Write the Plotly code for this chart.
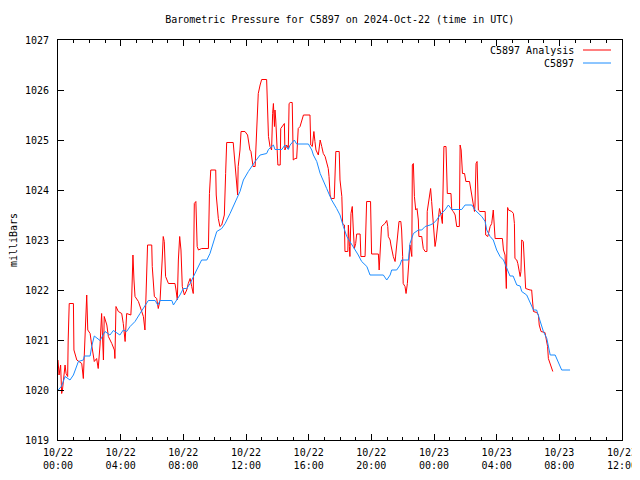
import pandas as pd
import plotly.graph_objects as go

START = pd.Timestamp("2024-10-22 00:00")

# C5897 observations: minutes after 2024-10-22 00:00 UTC, pressure (mb)
obs_min = [1, 14, 27, 46, 59, 72, 78, 97, 101, 123, 129, 139, 148, 161, 180, 199, 212, 237, 250, 263,
           276, 295, 314, 333, 346, 372, 382, 391, 436, 442, 455, 467, 480, 493, 506, 518, 531, 550, 570, 582,
           595, 608, 627, 640, 659, 671, 684, 697, 710, 729, 755, 774, 799, 806, 825, 831, 857, 869, 882, 889,
           905, 914, 959, 972, 978, 991, 1004, 1016, 1029, 1042, 1048, 1067, 1080, 1093, 1106, 1118, 1131, 1150, 1163, 1183,
           1195, 1246, 1259, 1272, 1278, 1297, 1310, 1316, 1342, 1348, 1361, 1380, 1393, 1406, 1425, 1437, 1450, 1463, 1482, 1495,
           1508, 1546, 1559, 1585, 1597, 1610, 1623, 1636, 1642, 1655, 1667, 1680, 1693, 1706, 1719, 1731, 1743, 1757, 1770, 1776,
           1795, 1808, 1821, 1833, 1846, 1859, 1872, 1878, 1885, 1904, 1917, 1929, 1961]
obs_mb = [1020.0, 1020.08, 1020.27, 1020.2, 1020.3, 1020.48, 1020.57, 1020.6, 1020.68, 1020.68, 1020.87, 1021.08, 1021.05, 1020.99, 1021.17, 1021.1, 1021.19, 1021.1, 1021.2, 1021.17,
          1021.27, 1021.37, 1021.53, 1021.7, 1021.79, 1021.79, 1021.7, 1021.79, 1021.79, 1021.7, 1021.8, 1021.9, 1022.03, 1022.03, 1022.13, 1022.27, 1022.4, 1022.6, 1022.6, 1022.73,
          1022.93, 1023.17, 1023.23, 1023.33, 1023.53, 1023.67, 1023.8, 1023.97, 1024.2, 1024.37, 1024.57, 1024.7, 1024.73, 1024.81, 1024.9, 1024.81, 1024.81, 1024.9, 1024.81, 1024.9,
          1025.0, 1024.92, 1024.92, 1024.8, 1024.7, 1024.57, 1024.33, 1024.17, 1024.03, 1023.87, 1023.8, 1023.63, 1023.5, 1023.27, 1023.07, 1022.97, 1022.87, 1022.7, 1022.57, 1022.47,
          1022.3, 1022.3, 1022.2, 1022.3, 1022.4, 1022.4, 1022.5, 1022.6, 1022.6, 1022.93, 1023.13, 1023.2, 1023.2, 1023.27, 1023.3, 1023.33, 1023.4, 1023.5, 1023.6, 1023.7,
          1023.61, 1023.61, 1023.7, 1023.7, 1023.6, 1023.53, 1023.47, 1023.37, 1023.2, 1023.07, 1023.0, 1022.8, 1022.67, 1022.6, 1022.45, 1022.28, 1022.28, 1022.1, 1022.08, 1021.97,
          1021.9, 1021.73, 1021.6, 1021.6, 1021.4, 1021.17, 1021.03, 1020.87, 1020.7, 1020.7, 1020.53, 1020.4, 1020.4]

# C5897 Analysis: minutes after 2024-10-22 00:00 UTC, pressure (mb)
ana_min = [0, 4, 10, 14, 17, 20, 27, 31, 37, 39, 43, 59, 61, 72, 91, 97, 101, 106, 110, 114,
           123, 129, 139, 148, 154, 161, 167, 174, 177, 187, 193, 206, 216, 218, 222, 231, 244, 250, 257, 263,
           279, 282, 287, 291, 295, 308, 327, 333, 340, 343, 359, 361, 369, 378, 384, 391, 399, 403, 407, 412,
           423, 448, 452, 457, 461, 466, 471, 476, 484, 493, 499, 506, 512, 518, 522, 528, 533, 538, 550, 576,
           580, 585, 604, 606, 614, 620, 627, 637, 642, 646, 671, 678, 684, 688, 690, 697, 701, 716, 726, 735,
           739, 747, 755, 761, 765, 767, 774, 780, 799, 802, 806, 812, 818, 822, 825, 829, 831, 834, 838, 842,
           851, 853, 863, 867, 869, 876, 882, 885, 889, 897, 901, 908, 914, 920, 927, 933, 940, 965, 968, 974,
           980, 984, 988, 997, 1004, 1010, 1016, 1023, 1029, 1035, 1038, 1042, 1046, 1058, 1061, 1064, 1077, 1080, 1087, 1090,
           1097, 1099, 1110, 1112, 1116, 1118, 1122, 1127, 1131, 1135, 1140, 1144, 1157, 1160, 1176, 1178, 1182, 1197, 1201, 1227,
           1230, 1239, 1246, 1252, 1259, 1263, 1265, 1272, 1275, 1278, 1284, 1291, 1297, 1301, 1306, 1313, 1316, 1320, 1322, 1329,
           1333, 1338, 1342, 1348, 1355, 1357, 1361, 1365, 1370, 1375, 1380, 1382, 1393, 1399, 1406, 1413, 1414, 1418, 1425, 1427,
           1431, 1435, 1440, 1444, 1448, 1454, 1461, 1467, 1472, 1478, 1486, 1491, 1505, 1508, 1514, 1521, 1527, 1537, 1540, 1544,
           1549, 1557, 1562, 1576, 1585, 1591, 1595, 1597, 1601, 1605, 1610, 1616, 1636, 1638, 1646, 1655, 1661, 1667, 1670, 1674,
           1702, 1706, 1712, 1716, 1717, 1719, 1722, 1725, 1738, 1744, 1748, 1750, 1757, 1761, 1766, 1770, 1773, 1776, 1782, 1786,
           1791, 1808, 1814, 1817, 1821, 1833, 1840, 1843, 1850, 1865, 1869, 1875, 1878, 1885, 1891, 1895]
ana_mb = [1020.6, 1020.3, 1020.5, 1019.93, 1020.0, 1020.2, 1020.5, 1020.33, 1020.27, 1021.0, 1021.73, 1021.73, 1020.8, 1020.6, 1020.53, 1020.23, 1020.87, 1021.63, 1021.9, 1021.2,
          1021.13, 1020.9, 1020.57, 1020.63, 1020.43, 1020.9, 1021.53, 1020.6, 1021.47, 1021.3, 1021.07, 1020.93, 1020.8, 1020.63, 1021.67, 1021.57, 1021.53, 1021.33, 1020.97, 1021.53,
          1021.5, 1021.8, 1022.7, 1022.2, 1021.87, 1021.77, 1021.47, 1021.2, 1022.4, 1022.9, 1022.9, 1022.47, 1021.87, 1021.83, 1021.63, 1021.8, 1022.6, 1023.07, 1022.97, 1022.27,
          1022.13, 1022.13, 1022.0, 1021.8, 1022.6, 1023.07, 1022.8, 1022.07, 1021.9, 1022.0, 1022.13, 1022.23, 1022.07, 1021.93, 1023.73, 1023.77, 1022.87, 1022.8, 1022.83, 1022.83,
          1023.93, 1024.4, 1024.4, 1023.9, 1023.43, 1023.27, 1023.3, 1023.5, 1024.33, 1024.95, 1024.95, 1024.47, 1024.03, 1023.9, 1024.47, 1024.8, 1025.17, 1025.17, 1025.1, 1024.8,
          1024.77, 1024.47, 1024.47, 1025.4, 1025.87, 1025.93, 1026.1, 1026.21, 1026.21, 1025.53, 1025.07, 1024.87, 1024.8, 1025.53, 1025.73, 1025.27, 1025.6, 1025.4, 1025.0, 1024.5,
          1024.5, 1025.23, 1025.3, 1025.33, 1024.8, 1024.9, 1024.83, 1025.73, 1025.75, 1025.75, 1024.6, 1024.63, 1024.63, 1025.23, 1025.27, 1025.4, 1025.5, 1025.5, 1024.9, 1024.87,
          1025.17, 1024.97, 1024.8, 1024.7, 1025.0, 1024.87, 1024.73, 1024.67, 1024.53, 1024.43, 1024.27, 1023.9, 1023.83, 1023.83, 1024.3, 1024.77, 1024.77, 1024.2, 1023.87, 1023.33,
          1023.3, 1022.77, 1022.77, 1023.3, 1022.87, 1022.67, 1023.53, 1023.67, 1023.2, 1022.83, 1022.93, 1023.12, 1023.12, 1022.67, 1022.67, 1023.23, 1023.77, 1023.77, 1022.72, 1022.72,
          1022.4, 1023.27, 1023.3, 1023.33, 1023.39, 1023.27, 1023.07, 1023.0, 1022.9, 1022.8, 1022.67, 1022.57, 1022.93, 1023.03, 1023.37, 1023.37, 1023.2, 1022.67, 1022.13, 1022.07,
          1021.93, 1022.13, 1022.53, 1022.9, 1022.67, 1024.5, 1024.53, 1023.87, 1023.6, 1023.63, 1023.4, 1023.07, 1023.07, 1022.83, 1022.77, 1022.77, 1023.57, 1023.73, 1024.0, 1024.03,
          1023.77, 1023.53, 1023.27, 1022.87, 1023.0, 1023.27, 1023.63, 1023.5, 1023.33, 1024.87, 1024.87, 1023.93, 1023.93, 1023.6, 1023.57, 1023.5, 1023.27, 1023.27, 1024.9, 1024.8,
          1024.33, 1024.33, 1024.17, 1024.17, 1023.9, 1023.67, 1023.57, 1023.7, 1024.53, 1024.57, 1023.6, 1023.57, 1023.57, 1023.1, 1023.07, 1023.27, 1023.33, 1023.6, 1023.4, 1023.03,
          1023.03, 1022.8, 1022.7, 1022.2, 1022.03, 1022.8, 1023.65, 1023.6, 1023.57, 1023.53, 1023.33, 1022.63, 1022.6, 1022.53, 1022.4, 1022.27, 1022.37, 1023.0, 1022.97, 1022.53,
          1022.03, 1022.0, 1022.0, 1021.8, 1021.57, 1021.55, 1021.5, 1021.3, 1021.17, 1021.15, 1021.03, 1020.87, 1020.63, 1020.53, 1020.47, 1020.37]

obs_t = [START + pd.Timedelta(minutes=m) for m in obs_min]
ana_t = [START + pd.Timedelta(minutes=m) for m in ana_min]

FONT = "DejaVu Sans Mono"
RED = "#ff0000"
BLUE = "#1a8cff"

fig = go.Figure()
fig.add_trace(go.Scatter(x=ana_t, y=ana_mb, mode="lines", name="C5897 Analysis",
                         line=dict(color=RED, width=1)))
fig.add_trace(go.Scatter(x=obs_t, y=obs_mb, mode="lines", name="C5897",
                         line=dict(color=BLUE, width=1)))

# the page places the figure 8px in from the top-left, so the figure is sized to fill the rest
fig.update_layout(
    width=632, height=472,
    margin=dict(l=50, r=18, t=32, b=40, autoexpand=False),
    paper_bgcolor="white", plot_bgcolor="white",
    showlegend=False,
    font=dict(family=FONT, size=10, color="black"),
    title=dict(text="Barometric Pressure for C5897 on 2024-Oct-22 (time in UTC)",
               x=0.525, xanchor="center", y=0.975, yanchor="middle",
               xref="container", yref="container",
               font=dict(family=FONT, size=10, color="black")),
)

fig.update_xaxes(
    type="date", automargin=False,
    range=[START, START + pd.Timedelta(hours=36)],
    tickmode="linear", tick0=START, dtick=4 * 3600 * 1000,
    tickformat="%m/%d<br>%H:%M",
    ticks="inside", ticklen=6, tickcolor="black",
    minor=dict(ticks="inside", dtick=3600 * 1000, ticklen=3, tickcolor="black"),
    showline=True, linecolor="black", linewidth=1, mirror="ticks",
    showgrid=False, zeroline=False,
    ticklabelstandoff=3, ticklabeloverflow="allow",
    tickfont=dict(family=FONT, size=10),
)
fig.update_yaxes(
    automargin=False,
    range=[1019, 1027], dtick=1,
    ticks="inside", ticklen=6, tickcolor="black",
    showline=True, linecolor="black", linewidth=1, mirror="ticks",
    showgrid=False, zeroline=False,
    ticklabelstandoff=6,
    title=dict(text="milliBars", font=dict(family=FONT, size=10), standoff=10),
    tickfont=dict(family=FONT, size=10),
)

# gnuplot-style legend: text on left, line sample on right
for i, (tr_name, col) in enumerate([("C5897 Analysis", RED), ("C5897", BLUE)]):
    yp = 1 - (10 + 13 * i) / 400.0
    fig.add_annotation(xref="paper", yref="paper", x=(576 - 58) / 564.0, y=yp,
                       text=tr_name, showarrow=False, xanchor="right", yanchor="middle",
                       font=dict(family=FONT, size=10, color="black"))
    fig.add_shape(type="line", xref="paper", yref="paper",
                  x0=(583 - 58) / 564.0, x1=(611 - 58) / 564.0, y0=yp, y1=yp,
                  line=dict(color=col, width=1))

fig.write_html("out.html")
